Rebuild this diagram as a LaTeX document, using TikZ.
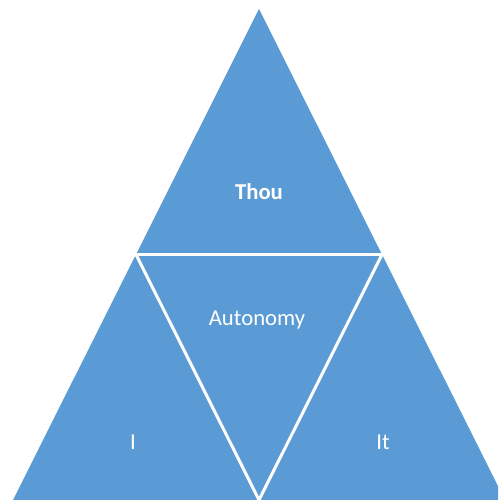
\documentclass[tikz,border=0pt]{standalone}
\usepackage{fontspec}
\setmainfont{Carlito}
\definecolor{officeblue}{HTML}{5B9BD5}
\tikzset{
  tri/.style={fill=officeblue},
  divider/.style={draw=white,line width=3pt,line join=miter},
  lbl/.style={text=white,font=\fontsize{22.7}{26}\selectfont,anchor=base,inner sep=0pt}
}
\begin{document}
\begin{tikzpicture}[x=1pt,y=1pt]
\useasboundingbox (0,0) rectangle (498,500);
\clip (0,0) rectangle (498,500);
\coordinate (apex) at (259,491);
\coordinate (bl) at (13,0);
\coordinate (br) at (505,0);
\coordinate (ml) at (136,245.5);
\coordinate (mr) at (382,245.5);
\coordinate (bm) at (259,0);
\fill[tri] (apex) -- (bl) -- (br) -- cycle;
\draw[divider] (ml) -- (mr);
\draw[divider] (ml) -- (bm) -- (mr);
\node[lbl,font=\bfseries\fontsize{22.7}{26}\selectfont] (thou) at (259,300) {Thou};
\node[lbl] (auto) at (257,174) {Autonomy};
\node[lbl] (i) at (133,50) {I};
\node[lbl] (it) at (383,50) {It};
\end{tikzpicture}
\end{document}
